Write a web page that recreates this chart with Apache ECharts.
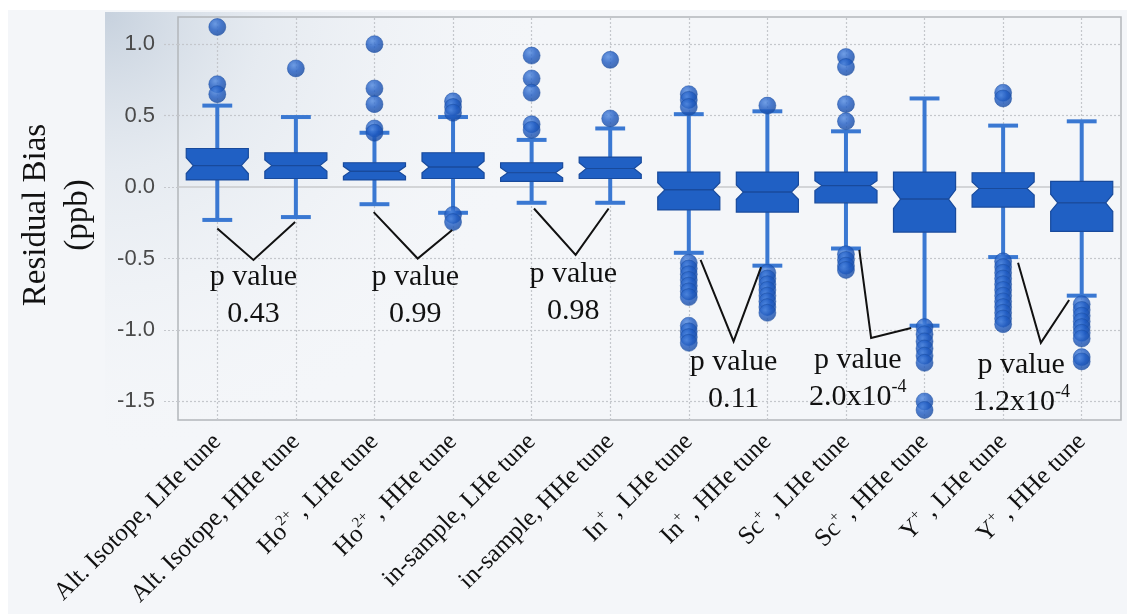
<!DOCTYPE html>
<html>
<head>
<meta charset="utf-8">
<script src="https://cdn.jsdelivr.net/npm/echarts@6/dist/echarts.min.js"></script>
<style>
  html, body { margin: 0; padding: 0; background: #ffffff; }
  #chart { width: 1127px; height: 614px; }
</style>
</head>
<body>
<div id="chart"></div>
<script>
// Category names; ^{...} marks a superscript charge
const categories = [
  'Alt. Isotope, LHe tune', 'Alt. Isotope, HHe tune',
  'Ho^{2+} , LHe tune', 'Ho^{2+} , HHe tune',
  'in-sample, LHe tune', 'in-sample, HHe tune',
  'In^{+} , LHe tune', 'In^{+} , HHe tune',
  'Sc^{+} , LHe tune', 'Sc^{+} , HHe tune',
  'Y^{+} , LHe tune', 'Y^{+} , HHe tune'
];

// Box statistics (ppb)
const lowerWhisker = [-0.23, -0.21, -0.12, -0.18, -0.11, -0.11, -0.46, -0.55, -0.43, -0.97, -0.49, -0.76];
const q1           = [ 0.05,  0.06,  0.05,  0.06,  0.04,  0.06, -0.16, -0.175, -0.11, -0.315, -0.14, -0.31];
const notchLow     = [ 0.095, 0.11,  0.075, 0.10,  0.065, 0.09, -0.07, -0.085, -0.025, -0.15, -0.055, -0.17];
const median       = [ 0.15,  0.15,  0.11,  0.14,  0.10,  0.13, -0.02, -0.035,  0.01, -0.085, -0.01, -0.11];
const notchHigh    = [ 0.205, 0.19,  0.145, 0.18,  0.135, 0.17,  0.03,  0.015,  0.045, -0.02,  0.035, -0.05];
const q3           = [ 0.27,  0.24,  0.17,  0.24,  0.17,  0.21,  0.105, 0.105,  0.105, 0.105,  0.10,  0.04];
const upperWhisker = [ 0.57,  0.49,  0.38,  0.49,  0.33,  0.41,  0.51,  0.53,   0.39,  0.62,   0.43,  0.46];

// Outliers per category
const outliers = [
  [1.12, 0.72, 0.65],
  [0.83],
  [1.00, 0.69, 0.58, 0.41, 0.38],
  [0.60, 0.56, 0.52, -0.195, -0.245],
  [0.92, 0.76, 0.66, 0.44, 0.40],
  [0.89, 0.48],
  [0.65, 0.61, 0.56, -0.53, -0.57, -0.61, -0.65, -0.69, -0.73, -0.77, -0.97, -1.01, -1.05, -1.09],
  [0.57, -0.60, -0.64, -0.68, -0.72, -0.76, -0.80, -0.84, -0.88],
  [0.91, 0.84, 0.58, 0.46, -0.47, -0.51, -0.55, -0.58],
  [-0.98, -1.03, -1.08, -1.13, -1.18, -1.23, -1.50, -1.56],
  [0.66, 0.62, -0.52, -0.56, -0.60, -0.64, -0.68, -0.72, -0.76, -0.80, -0.84, -0.88, -0.92, -0.96],
  [-0.82, -0.86, -0.90, -0.94, -0.98, -1.02, -1.06, -1.19, -1.22]
];

// Y axis tick values
const yTicks = [-1.5, -1.0, -0.5, 0.0, 0.5, 1.0];

// p values between paired tunes
const pValues = ['0.43', '0.99', '0.98', '0.11', '2.0x10{sup|-4}', '1.2x10{sup|-4}'];

// Bracket geometry for each p value: [category position, value] points, text anchor
const brackets = [
  { pts: [[0.00, -0.29], [0.46, -0.51], [0.99, -0.245]], text: [0.46, -0.76] },
  { pts: [[1.99, -0.175], [2.55, -0.50], [2.99, -0.30]], text: [2.52, -0.76] },
  { pts: [[4.03, -0.15], [4.56, -0.475], [4.98, -0.15]], text: [4.53, -0.74] },
  { pts: [[6.15, -0.51], [6.57, -1.08], [6.92, -0.56]], text: [6.57, -1.355] },
  { pts: [[8.17, -0.44], [8.32, -1.056], [8.83, -0.986]], text: [8.15, -1.34] },
  { pts: [[10.19, -0.53], [10.48, -1.09], [10.84, -0.79]], text: [10.23, -1.375] }
];

const boxData = categories.map((c, i) => [i, lowerWhisker[i], q1[i], notchLow[i], median[i], notchHigh[i], q3[i], upperWhisker[i]]);
const outlierData = [];
outliers.forEach((list, i) => list.forEach(v => outlierData.push([i, v])));

const BOX_FILL = '#2060c4';
const BOX_EDGE = '#184a9c';
const WHISKER = '#3a78d2';

function renderBox(params, api) {
  const i = api.value(0);
  const band = api.size([1, 0])[0];
  const x = api.coord([i, 0])[0];
  const y = k => api.coord([i, api.value(k)])[1];
  const yLw = y(1), yQ1 = y(2), yNl = y(3), yMed = y(4), yNh = y(5), yQ3 = y(6), yUw = y(7);
  const hw = band * 0.395, inset = band * 0.09, cap = band * 0.19;
  const wStyle = { stroke: WHISKER, lineWidth: 4 };
  const upper = [[x - hw, yQ3], [x + hw, yQ3], [x + hw, yNh], [x + hw - inset, yMed], [x - hw + inset, yMed], [x - hw, yNh]];
  const lower = [[x - hw + inset, yMed], [x + hw - inset, yMed], [x + hw, yNl], [x + hw, yQ1], [x - hw, yQ1], [x - hw, yNl]];
  return {
    type: 'group',
    children: [
      { type: 'line', shape: { x1: x, y1: yQ3, x2: x, y2: yUw }, style: wStyle },
      { type: 'line', shape: { x1: x, y1: yQ1, x2: x, y2: yLw }, style: wStyle },
      { type: 'line', shape: { x1: x - cap, y1: yUw, x2: x + cap, y2: yUw }, style: wStyle },
      { type: 'line', shape: { x1: x - cap, y1: yLw, x2: x + cap, y2: yLw }, style: wStyle },
      { type: 'polygon', shape: { points: upper }, style: { fill: BOX_FILL, stroke: BOX_EDGE, lineWidth: 1.2 } },
      { type: 'polygon', shape: { points: lower }, style: { fill: BOX_FILL, stroke: BOX_EDGE, lineWidth: 1.2 } }
    ]
  };
}

const gridLineStyle = { color: '#c4c7cc', type: [2, 2], width: 1.2 };
const gridMarks = [];
yTicks.forEach(v => {
  if (v === 0) {
    gridMarks.push({ yAxis: v, lineStyle: { color: '#c8cacd', type: 'solid', width: 1.5 } });
  } else {
    gridMarks.push({ yAxis: v });
  }
});
categories.forEach((c, i) => gridMarks.push({ xAxis: i }));

const chart = echarts.init(document.getElementById('chart'), null, { renderer: 'canvas' });

const option = {
  animation: false,
  backgroundColor: 'transparent',
  grid: {
    left: 178, right: 6, top: 17, bottom: 194,
    show: true, borderColor: '#b3b6ba', borderWidth: 1.5, backgroundColor: 'transparent'
  },
  xAxis: {
    type: 'category',
    data: categories,
    boundaryGap: true,
    axisLine: { show: false },
    axisTick: { show: true, alignWithLabel: true, length: 16, lineStyle: { color: '#c4c7cc', type: [2, 2], width: 1.2 } },
    splitLine: { show: false },
    axisLabel: {
      rotate: 45,
      margin: 18,
      interval: 0,
      fontFamily: 'Liberation Serif',
      fontSize: 25,
      color: '#111111',
      lineHeight: 30,
      formatter: v => v.replace(/\^\{([^}]*)\}/g, '{sup|$1}'),
      rich: {
        sup: { fontFamily: 'Liberation Serif', fontSize: 15, color: '#111111', verticalAlign: 'top', lineHeight: 30 }
      }
    }
  },
  yAxis: {
    type: 'value',
    min: -1.63,
    max: 1.19,
    axisLine: { show: false },
    splitLine: { show: false },
    axisTick: { show: true, customValues: yTicks, length: 16, lineStyle: { color: '#c4c7cc', type: [2, 2], width: 1.2 } },
    axisLabel: {
      customValues: yTicks,
      margin: 23,
      fontFamily: 'Liberation Sans',
      fontSize: 22,
      color: '#4a4a4a',
      formatter: v => v.toFixed(1)
    }
  },
  series: [
    {
      type: 'scatter',
      data: [],
      z: 1,
      silent: true,
      markLine: {
        z: 1,
        silent: true,
        symbol: 'none',
        label: { show: false },
        lineStyle: gridLineStyle,
        animation: false,
        data: gridMarks
      }
    },
    {
      type: 'custom',
      z: 10,
      renderItem: renderBox,
      encode: { x: 0, y: [1, 2, 3, 4, 5, 6, 7] },
      data: boxData
    },
    {
      type: 'scatter',
      z: 11,
      symbol: 'circle',
      symbolSize: 17,
      itemStyle: {
        color: new echarts.graphic.RadialGradient(0.38, 0.32, 0.7, [
          { offset: 0, color: '#4f88e0' },
          { offset: 0.5, color: '#1f5bc2' },
          { offset: 1, color: '#174aa2' }
        ]),
        borderColor: '#1a4c9f',
        borderWidth: 0.6
      },
      data: outlierData
    }
  ]
};

chart.setOption(option);

// Pixel helpers built from the chart's own axes
function toPixel(pos, val) {
  const a = chart.convertToPixel({ gridIndex: 0 }, [0, val]);
  const b = chart.convertToPixel({ gridIndex: 0 }, [1, val]);
  return [a[0] + pos * (b[0] - a[0]), a[1]];
}

const graphics = [
  { type: 'rect', z: -100, shape: { x: 8, y: 10, width: 1119, height: 604 }, style: { fill: '#f4f6f9' } },
  {
    type: 'rect', z: -99, shape: { x: 105, y: 12, width: 700, height: 450 },
    style: {
      fill: new echarts.graphic.RadialGradient(0, 0, 1, [
        { offset: 0, color: 'rgba(196,207,220,0.95)' },
        { offset: 0.35, color: 'rgba(220,227,235,0.6)' },
        { offset: 1, color: 'rgba(244,246,249,0)' }
      ])
    }
  },
  {
    type: 'text', z: 100, x: 57, y: 215, rotation: Math.PI / 2,
    style: {
      text: 'Residual Bias\n(ppb)', fontFamily: 'Liberation Serif', fontSize: 33, lineHeight: 42,
      fill: '#111111', align: 'center', verticalAlign: 'middle'
    }
  }
];

brackets.forEach((b, k) => {
  const pts = b.pts.map(p => toPixel(p[0], p[1]));
  graphics.push({
    type: 'polyline', z: 100,
    shape: { points: pts },
    style: { stroke: '#111111', lineWidth: 2, fill: null }
  });
  const t = toPixel(b.text[0], b.text[1]);
  graphics.push({
    type: 'text', z: 100, x: t[0], y: t[1],
    style: {
      text: 'p value\n' + pValues[k],
      fontFamily: 'Liberation Serif', fontSize: 30, lineHeight: 37,
      fill: '#111111', align: 'center', verticalAlign: 'middle',
      rich: {
        sup: { fontFamily: 'Liberation Serif', fontSize: 18, fill: '#111111', verticalAlign: 'top', lineHeight: 37 }
      }
    }
  });
});

chart.setOption({ graphic: graphics });
</script>
</body>
</html>
